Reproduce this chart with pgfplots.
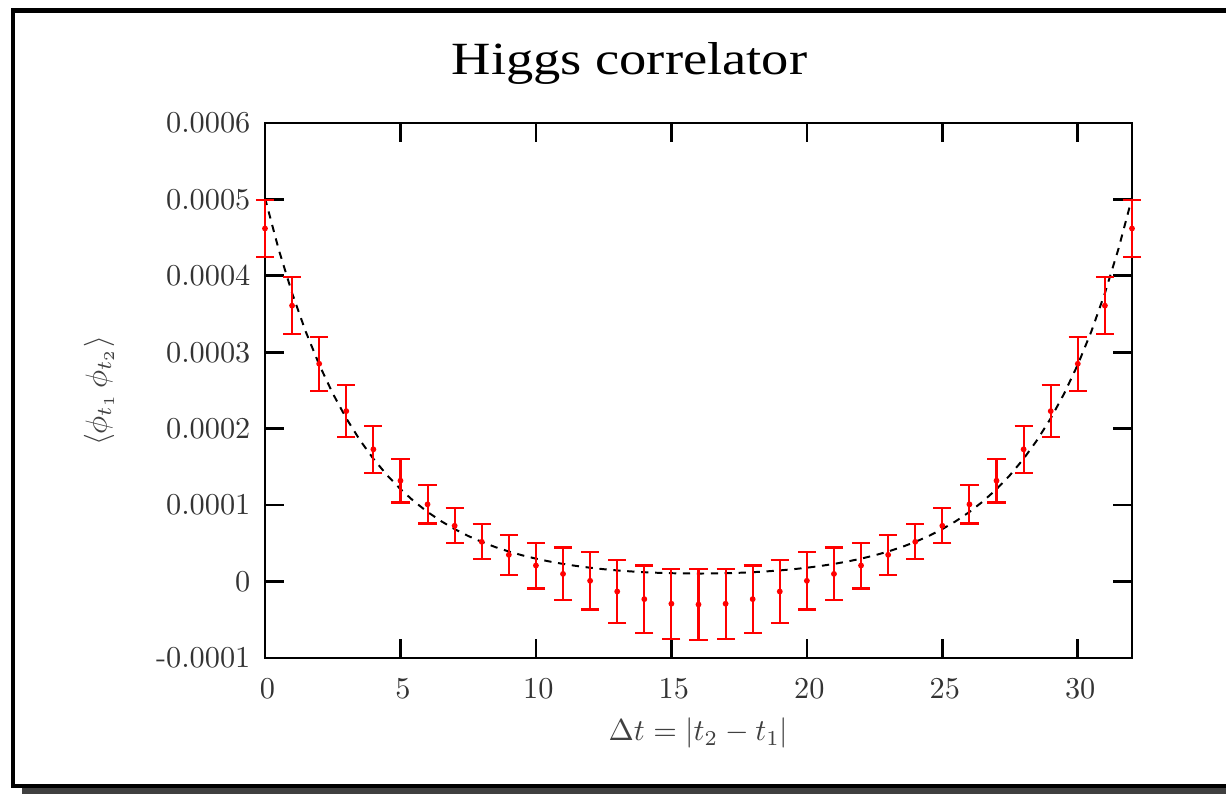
\documentclass[border=0pt]{standalone}
\usepackage{pgfplots}
\pgfplotsset{compat=1.18}
\usepackage{pgfplotstable}
\usepackage{fontspec}
\newfontfamily\titlefont{Liberation Serif}

\pgfplotstableread{
t y e
0 4.62e-4 0.37e-4
1 3.61e-4 0.37e-4
2 2.85e-4 0.355e-4
3 2.23e-4 0.34e-4
4 1.73e-4 0.31e-4
5 1.32e-4 0.285e-4
6 1.01e-4 0.25e-4
7 0.73e-4 0.23e-4
8 0.52e-4 0.23e-4
9 0.35e-4 0.26e-4
10 0.21e-4 0.30e-4
11 0.10e-4 0.345e-4
12 0.01e-4 0.375e-4
13 -0.13e-4 0.41e-4
14 -0.23e-4 0.44e-4
15 -0.29e-4 0.46e-4
16 -0.30e-4 0.465e-4
17 -0.29e-4 0.46e-4
18 -0.23e-4 0.44e-4
19 -0.13e-4 0.41e-4
20 0.01e-4 0.375e-4
21 0.10e-4 0.345e-4
22 0.21e-4 0.30e-4
23 0.35e-4 0.26e-4
24 0.52e-4 0.23e-4
25 0.73e-4 0.23e-4
26 1.01e-4 0.25e-4
27 1.32e-4 0.285e-4
28 1.73e-4 0.31e-4
29 2.23e-4 0.34e-4
30 2.85e-4 0.355e-4
31 3.61e-4 0.37e-4
32 4.62e-4 0.37e-4
}\corr

\pgfplotstableread{
t y
0 5.0187e-4
0.5 4.3523e-4
1 3.7744e-4
1.5 3.2733e-4
2 2.8389e-4
2.5 2.4621e-4
3 2.1354e-4
3.5 1.8522e-4
4 1.6066e-4
4.5 1.3937e-4
5 1.2092e-4
5.5 1.0492e-4
6 0.9107e-4
6.5 0.7906e-4
7 0.6866e-4
7.5 0.5966e-4
8 0.5187e-4
8.5 0.4513e-4
9 0.3931e-4
9.5 0.3430e-4
10 0.2998e-4
10.5 0.2627e-4
11 0.2309e-4
11.5 0.2039e-4
12 0.1810e-4
12.5 0.1617e-4
13 0.1458e-4
13.5 0.1328e-4
14 0.1225e-4
14.5 0.1147e-4
15 0.1093e-4
15.5 0.1061e-4
16 0.1050e-4
16.5 0.1061e-4
17 0.1093e-4
17.5 0.1147e-4
18 0.1225e-4
18.5 0.1328e-4
19 0.1458e-4
19.5 0.1617e-4
20 0.1810e-4
20.5 0.2039e-4
21 0.2309e-4
21.5 0.2627e-4
22 0.2998e-4
22.5 0.3430e-4
23 0.3931e-4
23.5 0.4513e-4
24 0.5187e-4
24.5 0.5966e-4
25 0.6866e-4
25.5 0.7906e-4
26 0.9107e-4
26.5 1.0492e-4
27 1.2092e-4
27.5 1.3937e-4
28 1.6066e-4
28.5 1.8522e-4
29 2.1354e-4
29.5 2.4621e-4
30 2.8389e-4
30.5 3.2733e-4
31 3.7744e-4
31.5 4.3523e-4
32 5.0187e-4
}\fit

\begin{document}
\begin{tikzpicture}
\begin{scope}[x=0.33pt,y=-0.33pt,shift={(-265,-658)}]
  \useasboundingbox (0,0) rectangle (1226,794);
  \fill[black!75] (22,20) rectangle (1260,810);
  \filldraw[fill=white,draw=black,line width=1.35pt] (12.8,10.5) rectangle (1250,786);
  \node[font=\titlefont\fontsize{14.5}{16}\selectfont,anchor=base] at (629.5,75) {\scalebox{1.24}[1.05]{Higgs correlator}};
  \node[rotate=90,text=black!75] at (99,391) {$\langle \phi_{t_1}\, \phi_{t_2} \rangle$};
  \node[text=black!75] at (698.5,733) {$\Delta t = |t_2 - t_1|$};
\end{scope}
\begin{axis}[
  at={(0,0)}, anchor=south west,
  scale only axis, width=286.11pt, height=176.55pt,
  xmin=0, xmax=32, ymin=-0.0001, ymax=0.0006,
  clip=false,
  axis line style={line width=0.9pt},
  tick style={line width=0.9pt, black},
  major tick length=6.3pt,
  tick align=inside,
  xtick={0,5,10,15,20,25,30},
  ytick={-0.0001,0,0.0001,0.0002,0.0003,0.0004,0.0005,0.0006},
  yticklabels={-0.0001,0,0.0001,0.0002,0.0003,0.0004,0.0005,0.0006},
  scaled y ticks=false,
  ticklabel style={text=black!80},
  yticklabel style={xshift=-1.3pt},
  xticklabel style={yshift=-3.5pt, xshift=0.8pt},
]
\addplot[black, line width=0.65pt, dash pattern=on 2.4pt off 2.2pt, no marks] table[x=t,y=y] {\fit};
\addplot[color=red, only marks, mark=*, mark size=0.75pt, mark options={fill=red, draw=red},
  error bars/.cd, y dir=both, y explicit,
  error bar style={line width=0.7pt, draw=red},
  error mark options={rotate=90, draw=red, mark size=3pt, line width=0.7pt}]
  table[x=t, y=y, y error=e] {\corr};
\end{axis}
\end{tikzpicture}
\end{document}
